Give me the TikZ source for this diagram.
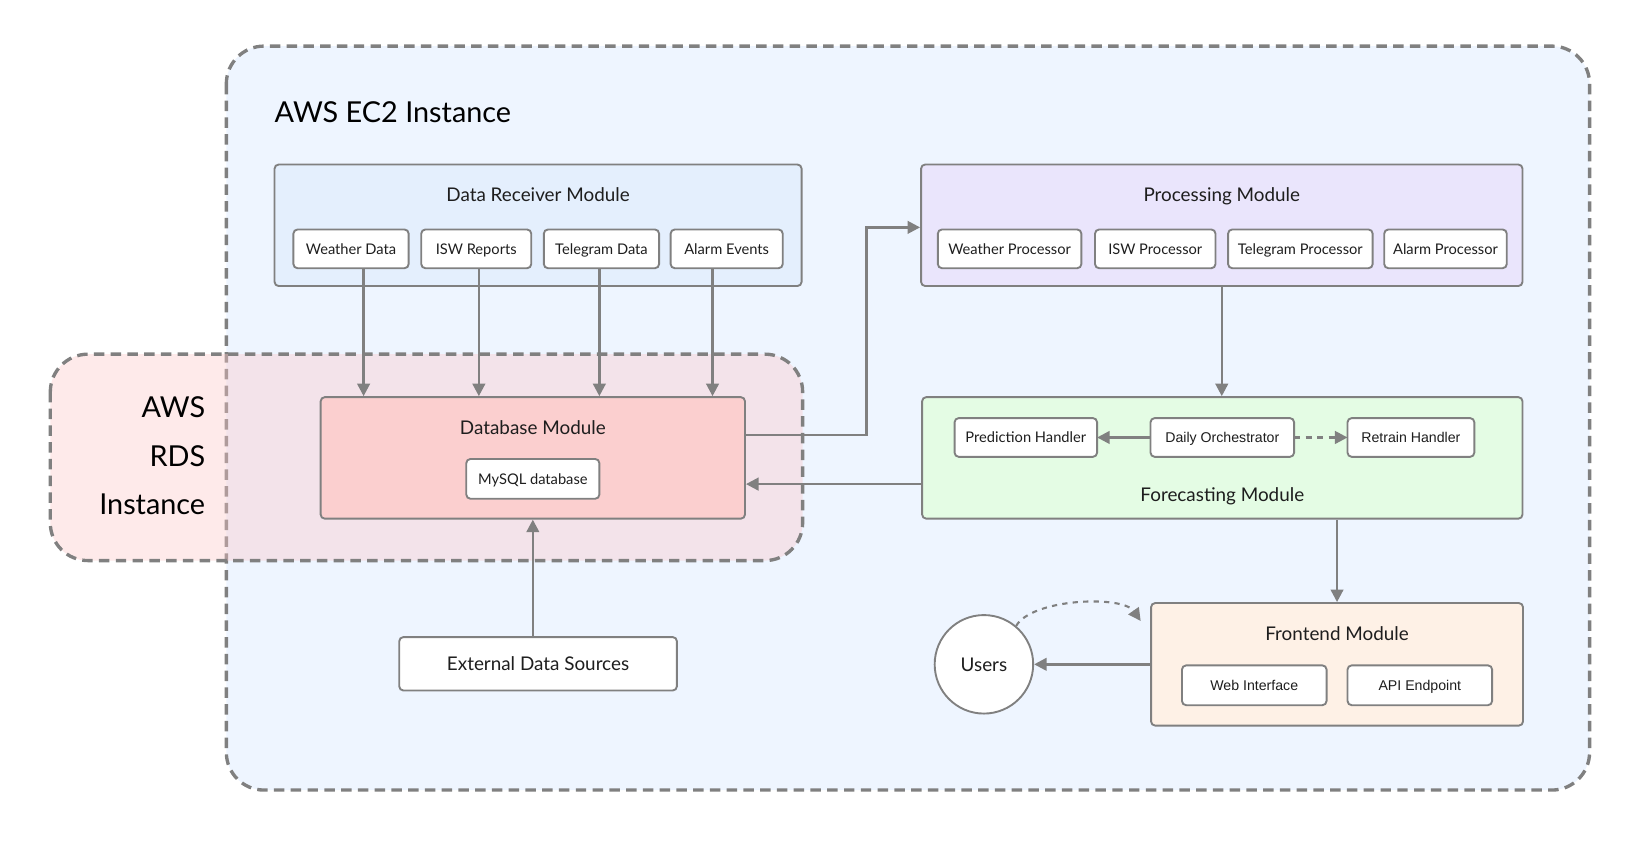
\documentclass[tikz,border=0pt]{standalone}
\usepackage{fontspec}
\setmainfont{Lato}
\newfontfamily\uifont{Liberation Sans}
\usetikzlibrary{positioning,arrows.meta}

\definecolor{linegray}{HTML}{808080}
\definecolor{inkdark}{HTML}{1E1E1E}
\definecolor{ecfill}{HTML}{EEF5FF}
\definecolor{rdsfill}{HTML}{FCC8C8}
\definecolor{recvfill}{HTML}{E4EFFD}
\definecolor{dbfill}{HTML}{FBCFCF}
\definecolor{procfill}{HTML}{EAE5FC}
\definecolor{fcfill}{HTML}{E4FCE4}
\definecolor{fefill}{HTML}{FEF1E6}

\tikzset{
  zone/.style={draw=linegray, line width=3.2pt, dash pattern=on 10pt off 6pt, rounded corners=36pt},
  module/.style={draw=linegray, line width=1.8pt, rounded corners=4pt, minimum height=116pt, inner sep=0pt},
  modtitle/.style={font=\fontsize{18}{22}\selectfont, text=inkdark, inner sep=0pt, text height=13pt, text depth=0pt},
  item/.style={draw=linegray, line width=1.8pt, rounded corners=4pt, fill=white, minimum height=37pt, inner sep=0pt, outer sep=0pt, text height=10pt, text depth=0pt, font=\fontsize{14}{17}\selectfont, text=inkdark},
  uiitem/.style={item, font=\uifont\fontsize{13.5}{16}\selectfont},
  conn/.style={draw=linegray, line width=2.4pt, -{Triangle[length=12pt, width=12pt]}},
  bigtext/.style={font=\fontsize{27.5}{46}\selectfont, text=black, inner sep=0pt},
}

\begin{document}
\begin{tikzpicture}[x=1pt, y=1pt]
	\useasboundingbox (0,0) rectangle (1568,812);
	
	\draw[zone, fill=ecfill] (216,768) rectangle (1517,58);
	\node[bigtext, anchor=west] (ec2label) at (262,705) {AWS EC2 Instance};
	\fill[rdsfill, opacity=0.38, rounded corners=36pt] (48,474) rectangle (766,277);
	\draw[zone] (48,474) rectangle (766,277);
	\node[bigtext, anchor=east, align=right] (rdslabel) at (196,377) {AWS\\RDS\\Instance};
	
	\node[module, fill=recvfill, minimum width=503pt] (recv) at (513.5,597) {};
	\node[modtitle] (recvtitle) at ([yshift=-30pt]recv.north) {Data Receiver Module};
	\node[item, minimum width=110pt] (wdata) at (335,574.5) {Weather Data};
	\node[item, minimum width=105pt, right=12pt of wdata] (iswrep) {ISW Reports};
	\node[item, minimum width=110pt, right=12pt of iswrep] (tgdata) {Telegram Data};
	\node[item, minimum width=107pt, right=11pt of tgdata] (alarms) {Alarm Events};
	
	\node[module, fill=procfill, minimum width=574pt] (proc) at (1166,597) {};
	\node[modtitle] (proctitle) at ([yshift=-30pt]proc.north) {Processing Module};
	\node[item, minimum width=137pt] (wproc) at (963.5,574.5) {Weather Processor};
	\node[item, minimum width=115pt, right=13pt of wproc] (iswproc) {ISW Processor};
	\node[item, minimum width=138pt, right=12pt of iswproc] (tgproc) {Telegram Processor};
	\node[item, minimum width=117pt, right=11pt of tgproc] (alproc) {Alarm Processor};
	
	\node[module, fill=dbfill, minimum width=405pt] (db) at (508.5,375) {};
	\node[modtitle] (dbtitle) at ([yshift=-30pt]db.north) {Database Module};
	\node[item, minimum width=127pt, minimum height=38pt] (mysql) at (508.5,355) {MySQL database};
	
	\node[module, fill=fcfill, minimum width=573pt] (fc) at (1166.5,375) {};
	\node[modtitle] (fctitle) at ([yshift=24pt]fc.south) {Forecasting Module};
	\node[uiitem, minimum width=137pt] (daily) at (1166.5,394.5) {Daily Orchestrator};
	\node[item, minimum width=136pt, left=51pt of daily] (predict) {Prediction Handler};
	\node[uiitem, minimum width=121pt, right=51pt of daily] (retrain) {Retrain Handler};
	
	\node[module, fill=fefill, minimum width=355pt, minimum height=117pt] (fe) at (1276,178) {};
	\node[modtitle] (fetitle) at ([yshift=-30pt]fe.north) {Frontend Module};
	\node[uiitem, minimum width=138pt, minimum height=38pt] (webui) at (1197,158) {Web Interface};
	\node[uiitem, minimum width=138pt, minimum height=38pt, right=20pt of webui] (api) {API Endpoint};
	
	\node[item, minimum width=265pt, minimum height=51pt, text height=13pt, font=\fontsize{18}{22}\selectfont] (extsrc) at (513.5,178.5) {External Data Sources};
	\node[circle, draw=linegray, line width=1.8pt, fill=white, minimum size=94pt, inner sep=0pt, font=\fontsize{18}{22}\selectfont, text=inkdark] (users) at (939,178) {Users};
	
	\draw[conn] ([xshift=12pt]wdata.south) -- ([xshift=12pt]db.north -| wdata.south);
	\draw[conn] ([xshift=2.5pt]iswrep.south) -- ([xshift=2.5pt]db.north -| iswrep.south);
	\draw[conn] ([xshift=-2pt]tgdata.south) -- ([xshift=-2pt]db.north -| tgdata.south);
	\draw[conn] ([xshift=-13.5pt]alarms.south) -- ([xshift=-13.5pt]db.north -| alarms.south);
	\draw[conn] ([yshift=22pt]db.east) -- ++(115pt,0) |- ([yshift=-2pt]proc.west);
	\draw[conn] (proc.south) -- (proc.south |- fc.north);
	\draw[conn] ([yshift=-25pt]fc.west) -- ([yshift=-25pt]db.east);
	\draw[conn] (daily.west) -- (predict.east);
	\draw[conn, dash pattern=on 6pt off 5pt] (daily.east) -- (retrain.west);
	\draw[conn] (extsrc.north -| db.south) -- (db.south);
	\draw[conn] (fe.north |- fc.south) -- (fe.north);
	\draw[conn] (fe.west) -- (users.east);
	\draw[conn, line width=2pt, dash pattern=on 5pt off 5pt] (users.50) to[out=60, in=125, looseness=0.65] ([xshift=-9pt,yshift=-18pt]fe.north west);
\end{tikzpicture}
\end{document}
